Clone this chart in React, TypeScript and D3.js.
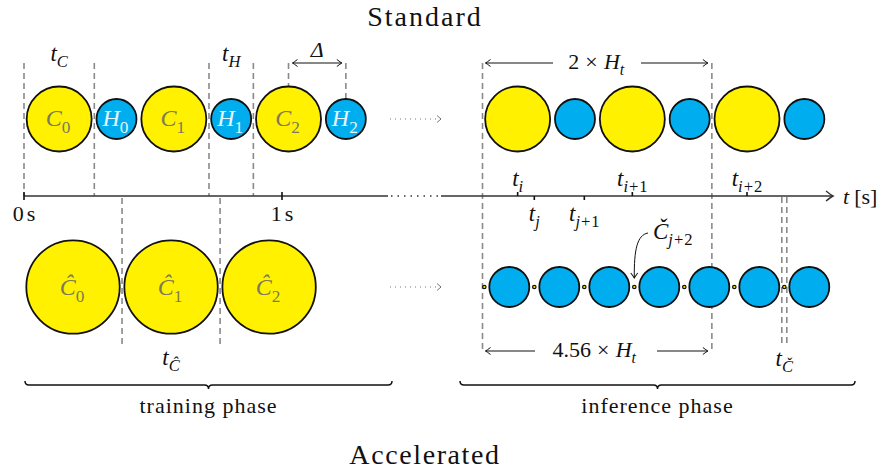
import React from 'react';
import * as d3 from 'd3';

// durations in seconds (0 s .. 1 s)
const cycleParts = [
  { kind: 'C', dur: 0.2725 },
  { kind: 'H', dur: 0.172 },
];
const standardIdx = ['0', '1', '2'];
const trainIdx = ['0', '1', '2'];
const trainDur = 0.38;
const inferDur = 0.1938;
const inferCount = 7;
const inferOffset = 0.007;
const axisTicks = [
  { t: 0, num: '0' },
  { t: 1, num: '1' },
];
const upperTickLabels = ['i', 'i+1', 'i+2'];
const lowerTickLabels = ['j', 'j+1'];

const YELLOW = '#FFF100';
const BLUE = '#00AEEF';
const GRAY = '#8a8a8a';
const FONT = '"Liberation Serif", serif';

const W = 881;
const H = 474;

const rowTop = 119;
const rowBottom = 287;
const axisY = 196;

const period = d3.sum(cycleParts, (d) => d.dur);

const xL = d3.scaleLinear().domain([0, 1]).range([24, 282]);
const xR = d3.scaleLinear().domain([0, 1]).range([482.5, 740.5]);

type Slot = { kind: string; start: number; end: number; idx: number };

function cycleSlots(n: number): Slot[] {
  const out: Slot[] = [];
  let t = 0;
  for (let i = 0; i < n; i++) {
    cycleParts.forEach((p) => {
      out.push({ kind: p.kind, start: t, end: t + p.dur, idx: i });
      t += p.dur;
    });
  }
  return out;
}

// letters italic, digits and signs upright
const mathParts = (s: string, gap: number, lead = 0) =>
  s.split('').map((ch, i) => {
    const letter = /[A-Za-zΔĈČ]/.test(ch);
    let dx = i === 0 ? lead : 0;
    if (ch === '+' || (i > 0 && s[i - 1] === '+')) dx += gap;
    return (
      <tspan key={i} fontStyle={letter ? 'italic' : 'normal'} dx={dx || undefined}>
        {ch}
      </tspan>
    );
  });

const Sym: React.FC<{
  x: number;
  y: number;
  base: string;
  sub?: string;
  size?: number;
  fill?: string;
  anchor?: 'start' | 'middle' | 'end';
  pre?: string;
}> = ({ x, y, base, sub, size = 22, fill = '#111', anchor = 'middle', pre }) => (
  <text x={x} y={y} fontSize={size} fill={fill} textAnchor={anchor} fontFamily={FONT}>
    {pre ? (
      <>
        <tspan>{pre}</tspan>
        <tspan dx={size * 0.28}>×</tspan>
      </>
    ) : null}
    {mathParts(base, 0, pre ? size * 0.28 : 0)}
    {sub ? (
      <tspan dy={size * 0.28} fontSize={size * 0.72}>
        {mathParts(sub, 1)}
      </tspan>
    ) : null}
  </text>
);

function bracePath(x1: number, x2: number, y: number) {
  const m = (x1 + x2) / 2;
  const h = 4;
  return `M${x1},${y - h} Q${x1},${y} ${x1 + h},${y} L${m - h},${y} Q${m},${y} ${m},${y + h} Q${m},${y} ${m + h},${y} L${x2 - h},${y} Q${x2},${y} ${x2},${y - h}`;
}

const Dashed: React.FC<{ x: number; y1: number; y2: number }> = ({ x, y1, y2 }) => (
  <line x1={x} x2={x} y1={y1} y2={y2} stroke={GRAY} strokeWidth={1.6} strokeDasharray="6,4" />
);

const App: React.FC = () => {
  const leftSlots = cycleSlots(standardIdx.length);
  const rightSlots = cycleSlots(3);
  const rC = 32.5;
  const rH = 20;
  const rTrain = 46.7;
  const rInfer = 20;

  const trainSlots = trainIdx.map((k, i) => ({ k, start: i * trainDur, end: (i + 1) * trainDur }));
  const inferSlots = d3.range(inferCount).map((i) => ({
    start: inferOffset + i * inferDur,
    end: inferOffset + (i + 1) * inferDur,
  }));

  const c0 = leftSlots[0];
  const h1 = leftSlots[3];
  const c2 = leftSlots[4];
  const h2 = leftSlots[5];
  const mid = (s: { start: number; end: number }) => (s.start + s.end) / 2;

  const rightCs = rightSlots.filter((s) => s.kind === 'C');
  const spanEnd = 2 * period;
  const checkT = inferSlots[6].start;

  return (
    <svg
      width={W}
      height={H}
      style={{ position: 'absolute', left: 0, top: 0, background: '#fff' }}
      fontFamily={FONT}
    >
      <defs>
        <marker id="arr" viewBox="-8 -5 10 10" refX={0} refY={0} markerWidth={10} markerHeight={10} markerUnits="userSpaceOnUse" orient="auto-start-reverse">
          <path d="M-5,-3.5 Q-1.5,-0.8 0,0 Q-1.5,0.8 -5,3.5" fill="none" stroke="#111" strokeWidth={1} />
        </marker>
        <marker id="arrBig" viewBox="-9 -6 11 12" refX={0} refY={0} markerWidth={11} markerHeight={12} markerUnits="userSpaceOnUse" orient="auto">
          <path d="M-7,-5 Q-2,-1 0,0 Q-2,1 -7,5" fill="none" stroke="#333" strokeWidth={1.4} />
        </marker>
        <marker id="arrGray" viewBox="-8 -5 10 10" refX={0} refY={0} markerWidth={10} markerHeight={10} markerUnits="userSpaceOnUse" orient="auto">
          <path d="M-4,-3.5 L0,0 L-4,3.5" fill="none" stroke="#666" strokeWidth={0.9} />
        </marker>
      </defs>

      {/* titles */}
      <text x={425} y={26} fontSize={28} textAnchor="middle" letterSpacing={2} fill="#111">Standard</text>
      <text x={425} y={464} fontSize={28} textAnchor="middle" letterSpacing={1.6} fill="#111">Accelerated</text>

      {/* dashed guides */}
      {[c0.start, c0.end, h1.start, h1.end].map((t, i) => (
        <Dashed key={'sd' + i} x={xL(t)} y1={63} y2={axisY} />
      ))}
      <Dashed x={xL(mid(c2))} y1={63} y2={rowTop - rC} />
      <Dashed x={xL(mid(h2))} y1={63} y2={rowTop - rH} />
      {[0, spanEnd].map((t, i) => (
        <Dashed key={'rd' + i} x={xR(t)} y1={63} y2={351} />
      ))}
      {trainSlots.slice(1).map((s, i) => (
        <Dashed key={'td' + i} x={xL(s.start)} y1={198} y2={347} />
      ))}
      {[-2.5, 2.5].map((o, i) => (
        <Dashed key={'cd' + i} x={xR(checkT) + o} y1={197} y2={347} />
      ))}

      {/* top row circles */}
      {leftSlots.map((s, i) => (
        <g key={'l' + i}>
          <circle cx={xL(mid(s))} cy={rowTop} r={s.kind === 'C' ? rC : rH} fill={s.kind === 'C' ? YELLOW : BLUE} stroke="#111" strokeWidth={1.8} />
          <Sym x={xL(mid(s)) - 1} y={rowTop + 7} base={s.kind} sub={standardIdx[s.idx]} size={24} fill={s.kind === 'C' ? '#7d7a55' : '#e6f6fd'} />
        </g>
      ))}
      {rightSlots.map((s, i) => (
        <circle key={'r' + i} cx={xR(mid(s))} cy={rowTop} r={s.kind === 'C' ? rC : rH} fill={s.kind === 'C' ? YELLOW : BLUE} stroke="#111" strokeWidth={1.8} />
      ))}

      {/* bottom row circles */}
      {trainSlots.map((s, i) => (
        <g key={'t' + i}>
          <circle cx={xL(mid(s))} cy={rowBottom} r={rTrain} fill={YELLOW} stroke="#111" strokeWidth={1.8} />
          <Sym x={xL(mid(s)) - 1} y={rowBottom + 8} base="Ĉ" sub={s.k} size={24} fill="#7d7a55" />
        </g>
      ))}
      {inferSlots.map((s, i) => (
        <g key={'n' + i}>
          <circle cx={xR(mid(s))} cy={rowBottom} r={rInfer} fill={BLUE} stroke="#111" strokeWidth={1.8} />
          <circle cx={xR(s.start)} cy={rowBottom} r={1.7} fill={YELLOW} stroke="#111" strokeWidth={1.3} />
        </g>
      ))}

      {/* dotted continuations */}
      {[rowTop, rowBottom].map((y, i) => (
        <line key={'dc' + i} x1={390} x2={441} y1={y} y2={y} stroke="#666" strokeWidth={0.9} strokeDasharray="1,4" markerEnd="url(#arrGray)" />
      ))}

      {/* time axis */}
      <line x1={xL(0)} x2={388} y1={axisY} y2={axisY} stroke="#333" strokeWidth={1.5} />
      <line x1={391} x2={438} y1={axisY} y2={axisY} stroke="#333" strokeWidth={1.5} strokeDasharray="1.5,5" />
      <line x1={441} x2={833} y1={axisY} y2={axisY} stroke="#333" strokeWidth={1.5} markerEnd="url(#arrBig)" />
      {axisTicks.map((d) => (
        <g key={d.num}>
          <line x1={xL(d.t)} x2={xL(d.t)} y1={axisY - 4} y2={axisY + 4} stroke="#111" strokeWidth={1.6} />
          <text x={xL(d.t)} y={221} fontSize={22} textAnchor="middle" fill="#111">
            {d.num}
            <tspan dx={3}>s</tspan>
          </text>
        </g>
      ))}
      {rightCs.map((s, i) => (
        <g key={'ti' + i}>
          <line x1={xR(mid(s))} x2={xR(mid(s))} y1={axisY - 4} y2={axisY} stroke="#111" strokeWidth={1.6} />
          <Sym x={xR(mid(s))} y={186} base="t" sub={upperTickLabels[i]} size={23} />
        </g>
      ))}
      {lowerTickLabels.map((lab, i) => {
        const x = xR(inferSlots[i + 1].start);
        return (
          <g key={'tj' + i}>
            <line x1={x} x2={x} y1={axisY} y2={axisY + 4} stroke="#111" strokeWidth={1.6} />
            <Sym x={x} y={221} base="t" sub={lab} size={23} />
          </g>
        );
      })}
      <text x={843} y={204} fontSize={22} fill="#111">
        <tspan fontStyle="italic">t</tspan>
        <tspan dx={5}>[s]</tspan>
      </text>

      {/* interval labels */}
      <Sym x={(xL(c0.start) + xL(c0.end)) / 2} y={61} base="t" sub="C" size={23} />
      <Sym x={(xL(h1.start) + xL(h1.end)) / 2} y={61} base="t" sub="H" size={23} />
      <line x1={xL(mid(c2)) + 4} x2={xL(mid(h2)) - 4} y1={63} y2={63} stroke="#111" strokeWidth={1} markerStart="url(#arr)" markerEnd="url(#arr)" />
      <Sym x={(xL(mid(c2)) + xL(mid(h2))) / 2} y={57} base="Δ" size={22} />

      <line x1={xR(0) + 3} x2={553} y1={63} y2={63} stroke="#111" strokeWidth={1} markerStart="url(#arr)" />
      <line x1={641} x2={xR(spanEnd) - 4} y1={63} y2={63} stroke="#111" strokeWidth={1} markerEnd="url(#arr)" />
      <Sym x={(xR(0) + xR(spanEnd)) / 2 - 1} y={69} pre="2" base="H" sub="t" />

      <line x1={xR(0) + 3} x2={535} y1={351} y2={351} stroke="#111" strokeWidth={1} markerStart="url(#arr)" />
      <line x1={657} x2={xR(spanEnd) - 4} y1={351} y2={351} stroke="#111" strokeWidth={1} markerEnd="url(#arr)" />
      <Sym x={(xR(0) + xR(spanEnd)) / 2 - 3} y={357} pre="4.56" base="H" sub="t" />

      <Sym x={(xL(trainSlots[1].start) + xL(trainSlots[1].end)) / 2} y={365} base="t" sub="Ĉ" size={23} />
      <Sym x={xR(checkT)} y={366} base="t" sub="Č" size={23} />

      {/* callout */}
      <path d={`M648,233 C637,235 634,250 ${xR(inferSlots[3].start)},${rowBottom - 9}`} fill="none" stroke="#111" strokeWidth={1} markerEnd="url(#arr)" />
      <Sym x={653} y={239} base="Č" sub="j+2" size={23} anchor="start" />

      {/* braces */}
      <path d={bracePath(25, 392, 385)} fill="none" stroke="#111" strokeWidth={1.5} />
      <path d={bracePath(460, 855, 385)} fill="none" stroke="#111" strokeWidth={1.5} />
      <text x={208.5} y={413} fontSize={22} textAnchor="middle" letterSpacing={1} fill="#111">training phase</text>
      <text x={657.5} y={413} fontSize={22} textAnchor="middle" letterSpacing={1} fill="#111">inference phase</text>
    </svg>
  );
};

export default App;
